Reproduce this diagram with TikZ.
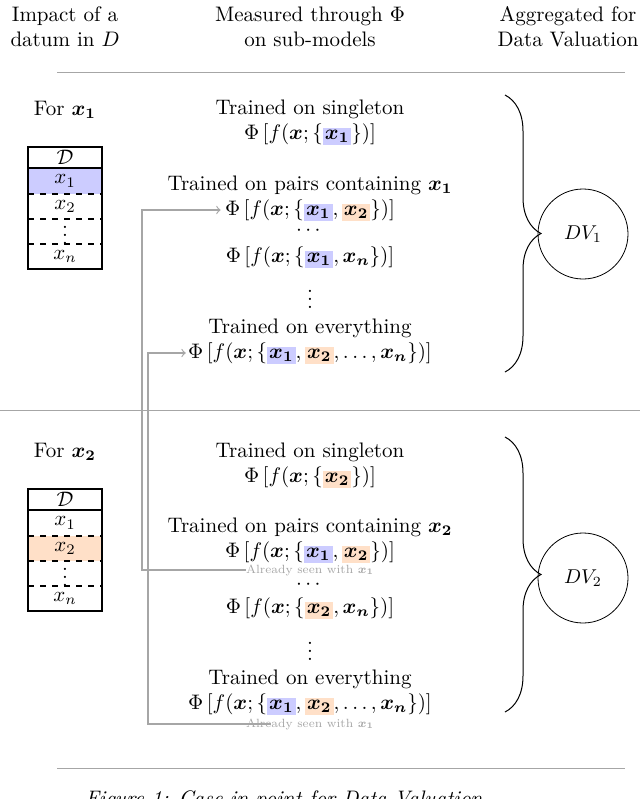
\documentclass[tikz,border=0pt]{standalone}
\usepackage{amsmath,bm}
\usetikzlibrary{decorations.pathreplacing}
\definecolor{hb}{RGB}{204,204,255}
\definecolor{ho}{RGB}{255,224,200}
\newcommand{\hb}[1]{{\setlength{\fboxsep}{1pt}\colorbox{hb}{$#1$}}}
\newcommand{\ho}[1]{{\setlength{\fboxsep}{1pt}\colorbox{ho}{$#1$}}}
\begin{document}
\begin{tikzpicture}[x=0.5pt,y=-0.5pt,
  txt/.style={inner sep=0pt,align=center,scale=1.05},
  rule/.style={gray!70,line width=0.5pt},
  seen/.style={gray!70,line width=0.6pt,->},
  note/.style={inner sep=0pt,text=gray!70,font=\scriptsize,scale=0.85},
  brc/.style={decoration={brace,amplitude=18pt},decorate,line width=0.5pt},
  dv/.style={draw,circle,minimum size=45pt,inner sep=0pt}]
\useasboundingbox (0,0) rectangle (640,799);
\node[txt] (h1) at (65,27) {Impact of a\\datum in $D$};
\node[txt] (h2) at (310,27) {Measured through $\Phi$\\on sub-models};
\node[txt] (h3) at (568,27) {Aggregated for\\Data Valuation};
\draw[rule] (57,72) -- (625,72);
\draw[rule] (0,410) -- (640,410);
\draw[rule] (57,768) -- (625,768);
\foreach \s/\y/\hA/\hB in {1/0/hb/white,2/342/white/ho}{
 \begin{scope}[yshift=-0.5*\y pt]
 \fill[\hA] (28,168) rectangle (102,194);
 \fill[\hB] (28,194) rectangle (102,219);
 \node[txt] (t\s h) at (65,157.5) {$\mathcal{D}$};
 \node[txt] (t\s a) at (65,181) {$x_1$};
 \node[txt] (t\s b) at (65,206.5) {$x_2$};
 \node[txt] (t\s c) at (65,229) {$\vdots$};
 \node[txt] (t\s d) at (65,256.5) {$x_n$};
 \draw[dashed,semithick] (28,194) -- (102,194) (28,219) -- (102,219) (28,244) -- (102,244);
 \draw[semithick] (28,168) -- (102,168);
 \draw[semithick] (28,147) rectangle (102,269);
 \end{scope}}
\node[txt] (f1) at (65,110) {For $\bm{x_1}$};
\node[txt] (a1) at (310,109) {Trained on singleton};
\node[txt] (a2) at (310,134) {$\Phi\left[f(\bm{x};\{\hb{\bm{x_1}}\})\right]$};
\node[txt] (b1) at (310,185) {Trained on pairs containing $\bm{x_1}$};
\node[txt] (b2) at (310,210) {$\Phi\left[f(\bm{x};\{\hb{\bm{x_1}},\ho{\bm{x_2}}\})\right]$};
\node[txt] (b3) at (310,231) {$\cdots$};
\node[txt] (b4) at (310,257) {$\Phi\left[f(\bm{x};\{\hb{\bm{x_1}},\bm{x_n}\})\right]$};
\node[txt] (b5) at (310,293) {$\vdots$};
\node[txt] (c1) at (310,328) {Trained on everything};
\node[txt] (c2) at (310,353) {$\Phi\left[f(\bm{x};\{\hb{\bm{x_1}},\ho{\bm{x_2}},\ldots,\bm{x_n}\})\right]$};
\draw[brc] (505,95) -- (505,372);
\node[dv] (dv1) at (583,234) {$DV_1$};
\node[txt] (f2) at (65,452) {For $\bm{x_2}$};
\node[txt] (d1) at (310,452) {Trained on singleton};
\node[txt] (d2) at (310,477) {$\Phi\left[f(\bm{x};\{\ho{\bm{x_2}}\})\right]$};
\node[txt] (e1) at (310,527) {Trained on pairs containing $\bm{x_2}$};
\node[txt] (e2) at (310,552) {$\Phi\left[f(\bm{x};\{\hb{\bm{x_1}},\ho{\bm{x_2}}\})\right]$};
\node[note] (n1) at (310,570) {Already seen with $\bm{x_1}$};
\node[txt] (e3) at (310,585) {$\cdots$};
\node[txt] (e4) at (310,608) {$\Phi\left[f(\bm{x};\{\ho{\bm{x_2}},\bm{x_n}\})\right]$};
\node[txt] (e5) at (310,645) {$\vdots$};
\node[txt] (g1) at (310,679) {Trained on everything};
\node[txt] (g2) at (310,704) {$\Phi\left[f(\bm{x};\{\hb{\bm{x_1}},\ho{\bm{x_2}},\ldots,\bm{x_n}\})\right]$};
\node[note] (n2) at (310,724) {Already seen with $\bm{x_1}$};
\draw[brc] (505,437) -- (505,712);
\node[dv] (dv2) at (583,578) {$DV_2$};
\draw[seen] (n1.west) -- (142,570) -- (142,210) -- ([xshift=-2pt]b2.west);
\draw[seen] (n2.west) ++(25,0) -- (148,724) -- (148,353) -- ([xshift=-1pt]c2.west);
\begin{scope}
\clip (0,775) rectangle (640,799);
\node[txt,anchor=west] (cap) at (85,800) {\textit{Figure 1: Case in point for Data Valuation}};
\end{scope}
\end{tikzpicture}
\end{document}
